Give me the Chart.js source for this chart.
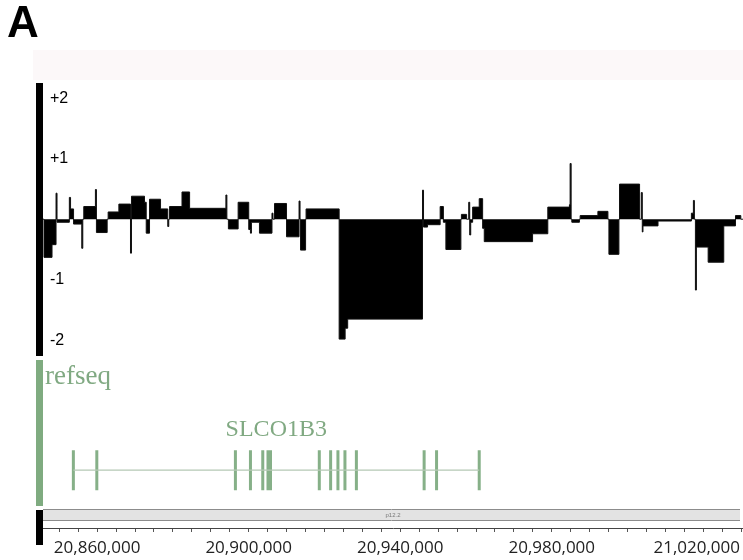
<!DOCTYPE html>
<html>
<head>
<meta charset="utf-8">
<script src="https://cdn.jsdelivr.net/npm/chart.js@4.4.1/dist/chart.umd.min.js"></script>
<style>
  html, body { margin: 0; padding: 0; background: #ffffff; }
  #wrap { width: 743px; height: 560px; position: relative; }
</style>
</head>
<body>
<div id="wrap"><canvas id="c" width="743" height="560"></canvas></div>
<script>
// Copy-number segments on chr12 (start bp, end bp, log2 ratio)
const segStart = [
  20845980, 20848100, 20849160, 20849420, 20852670, 20852990, 20853780, 20855950,
  20856480, 20859550, 20859820, 20862910, 20865740, 20868810, 20869070, 20872510,
  20872960, 20873830, 20876740, 20878650, 20879120, 20882400, 20884410, 20893990,
  20894650, 20897220, 20900020, 20900470, 20900730, 20902850, 20906150, 20906820,
  20909990, 20913300, 20913690, 20915150, 20923880, 20925460, 20926130, 20945880,
  20946150, 20947210, 20950540, 20951390, 20952050, 20956150, 20958080, 20958340,
  20958610, 20959110, 20960850, 20961750, 20962180, 20974930, 20978950, 20984660,
  20984840, 20985290, 20987490, 20992170, 20995080, 20997880, 21003620, 21003890,
  21004070, 21008040, 21016850, 21017380, 21017910, 21018170, 21021270, 21025390,
  21028490
];
const segEnd = [
  20848100, 20849160, 20849420, 20852670, 20852990, 20853780, 20855950, 20856220,
  20859550, 20859820, 20862650, 20865740, 20868810, 20869070, 20872510, 20872960,
  20873830, 20876740, 20878650, 20878910, 20882400, 20884410, 20893990, 20894250,
  20897220, 20900020, 20900470, 20900730, 20902850, 20906150, 20906420, 20909990,
  20913300, 20913560, 20915020, 20923880, 20925460, 20926130, 20945880, 20946150,
  20947210, 20950540, 20951390, 20952050, 20956010, 20957520, 20958340, 20958610,
  20959110, 20960850, 20961750, 20962180, 20974930, 20978950, 20984660, 20984840,
  20985110, 20987300, 20992170, 20994820, 20997720, 21003170, 21003890, 21004070,
  21008040, 21016850, 21017380, 21017640, 21018170, 21021270, 21025390, 21028490,
  21029890
];
const segValue = [
  -0.63, -0.42, 0.43, -0.05, 0.36, 0.17, -0.08, -0.48,
  0.21, 0.49, -0.22, 0.12, 0.25, -0.56, 0.38, 0.28,
  -0.23, 0.33, 0.17, -0.12, 0.21, 0.45, 0.18, 0.40,
  -0.16, 0.28, -0.17, -0.23, -0.05, -0.23, 0.10, 0.26,
  -0.29, 0.30, -0.51, 0.17, -1.98, -1.80, -1.65, 0.48,
  -0.13, -0.09, 0.21, -0.05, -0.50, 0.08, 0.28, -0.26,
  -0.05, 0.20, 0.34, -0.15, -0.37, -0.24, 0.20, 0.24,
  0.92, -0.05, 0.06, 0.13, -0.58, 0.58, 0.44, -0.21,
  -0.11, -0.03, 0.10, 0.31, -1.17, -0.46, -0.71, -0.11,
  0.06
];

// RefSeq gene model: exon positions (bp)
const geneName = 'SLCO1B3';
const trackName = 'refseq';
const exonPos = [
  20853730, 20859920, 20896500, 20900470, 20903720, 20905100, 20905760,
  20918640, 20921630, 20923560, 20925410, 20928430, 20946310, 20949590, 20960850
];

// Axis ticks
const yTickValues = [2, 1, -1, -2];
const yTickLabels = ['+2', '+1', '-1', '-2'];
const xLabelValues = [20860000, 20900000, 20940000, 20980000, 21020000];
const cytoband = 'p12.2';

// Visible locus and value range
const xMin = 20845717, xMax = 21030470;
const yMin = -5.1, yMax = 2.25;
const geneRow = 1.3;   // row of the gene model on the gene axis (0..10)
const exonHalf = 0.45; // half height of an exon tick on the gene axis

// Stepped outline: each point holds its value until the next point
const stepPts = [{ x: xMin, y: 0 }];
for (let i = 0; i < segStart.length; i++) {
  if (i > 0 && segStart[i] > segEnd[i - 1]) stepPts.push({ x: segEnd[i - 1], y: 0 });
  stepPts.push({ x: segStart[i], y: segValue[i] });
}
stepPts.push({ x: segEnd[segEnd.length - 1], y: 0 });
stepPts.push({ x: xMax, y: 0 });

// Exons as short vertical strokes, separated by gaps
const exonPts = [];
exonPos.forEach(p => {
  exonPts.push({ x: p, y: geneRow + exonHalf }, { x: p, y: geneRow - exonHalf }, { x: p, y: null });
});
const genePts = [{ x: exonPos[0], y: geneRow }, { x: exonPos[exonPos.length - 1], y: geneRow }];

const fmt = v => v.toLocaleString('en-US');

const decor = {
  id: 'decor',
  beforeDatasetsDraw(chart) {
    const ctx = chart.ctx;
    const area = chart.chartArea;
    ctx.save();
    // header strip
    ctx.fillStyle = '#fcf8f9';
    ctx.fillRect(33, 50, 743 - 33, 30);
    // cytoband strip
    ctx.fillStyle = '#e3e3e3';
    ctx.fillRect(area.left, 510, area.right - area.left - 3, 10);
    ctx.strokeStyle = '#8c8c8c';
    ctx.lineWidth = 1;
    ctx.beginPath();
    ctx.moveTo(area.left, 509.5); ctx.lineTo(area.right - 3, 509.5);
    ctx.moveTo(area.left, 520.5); ctx.lineTo(area.right - 3, 520.5);
    ctx.stroke();
    ctx.fillStyle = '#777';
    ctx.font = '6px "Liberation Sans", sans-serif';
    ctx.textAlign = 'center';
    ctx.textBaseline = 'middle';
    ctx.fillText(cytoband, (area.left + area.right) / 2, 515);
    ctx.restore();
  },
  afterDraw(chart) {
    const ctx = chart.ctx;
    const xs = chart.scales.x;
    const area = chart.chartArea;
    ctx.save();
    // panel letter
    ctx.fillStyle = '#000';
    ctx.font = 'bold 44px "Liberation Sans", Arial, sans-serif';
    ctx.textAlign = 'left';
    ctx.textBaseline = 'alphabetic';
    ctx.fillText('A', 7, 37);
    // track name bars
    ctx.fillStyle = '#000';
    ctx.fillRect(36, 83, 7, 273);
    ctx.fillStyle = '#7fab80';
    ctx.fillRect(36, 360, 7, 146);
    ctx.fillStyle = '#000';
    ctx.fillRect(36, 510, 7, 35);
    // gene track labels
    ctx.fillStyle = '#80a982';
    ctx.font = '27px "Liberation Serif", "Times New Roman", serif';
    ctx.textAlign = 'left';
    ctx.textBaseline = 'alphabetic';
    ctx.fillText(trackName, 45, 384);
    ctx.textAlign = 'center';
    ctx.font = '24px "Liberation Serif", "Times New Roman", serif';
    const gx = (xs.getPixelForValue(exonPos[0]) + xs.getPixelForValue(exonPos[exonPos.length - 1])) / 2;
    ctx.fillText(geneName, gx, 436);
    // ruler labels
    ctx.fillStyle = '#222';
    ctx.font = '17px "Open Sans", sans-serif';
    ctx.textBaseline = 'middle';
    ctx.textAlign = 'left';
    xLabelValues.forEach(v => {
      const t = fmt(v);
      const w = ctx.measureText(t).width;
      let left = xs.getPixelForValue(v) - w / 2;
      if (left + w > area.right - 3) left = area.right - 3 - w;
      ctx.fillText(t, left, 548);
    });
    ctx.restore();
  }
};

new Chart(document.getElementById('c'), {
  type: 'line',
  data: {
    datasets: [
      {
        data: stepPts,
        yAxisID: 'y',
        stepped: true,
        fill: 'origin',
        backgroundColor: '#000000',
        borderColor: '#111111',
        borderWidth: 1,
        pointRadius: 0
      },
      {
        data: genePts,
        yAxisID: 'yGene',
        borderColor: '#b4c8b4',
        borderWidth: 1.2,
        pointRadius: 0,
        fill: false
      },
      {
        data: exonPts,
        yAxisID: 'yGene',
        spanGaps: false,
        borderColor: '#86b088',
        borderWidth: 3,
        pointRadius: 0,
        fill: false
      }
    ]
  },
  options: {
    responsive: false,
    animation: false,
    devicePixelRatio: 1,
    events: [],
    layout: { padding: { left: 36, right: 0, top: 83, bottom: 28 } },
    plugins: { legend: { display: false }, tooltip: { enabled: false } },
    scales: {
      x: {
        type: 'linear',
        min: xMin,
        max: xMax,
        position: 'bottom',
        grid: { drawOnChartArea: false, tickLength: 4, color: '#555' },
        border: { color: '#444', width: 1 },
        ticks: { display: false },
        afterBuildTicks: ax => {
          const t = [];
          for (let v = 20850000; v <= 21030000; v += 5000) t.push({ value: v });
          ax.ticks = t;
        },
        afterFit: ax => { ax.height = 4; }
      },
      y: {
        min: yMin,
        max: yMax,
        position: 'left',
        grid: { display: false, drawTicks: false },
        border: { display: false },
        ticks: {
          mirror: true,
          padding: 7,
          color: '#000',
          font: { family: '"Liberation Sans", Arial, sans-serif', size: 16 },
          callback: v => yTickLabels[yTickValues.indexOf(v)] ?? ''
        },
        afterBuildTicks: ax => { ax.ticks = yTickValues.map(v => ({ value: v })); },
        afterFit: ax => { ax.width = 7; }
      },
      yGene: { display: false, min: 0, max: 10 }
    }
  },
  plugins: [decor]
});
</script>
</body>
</html>
